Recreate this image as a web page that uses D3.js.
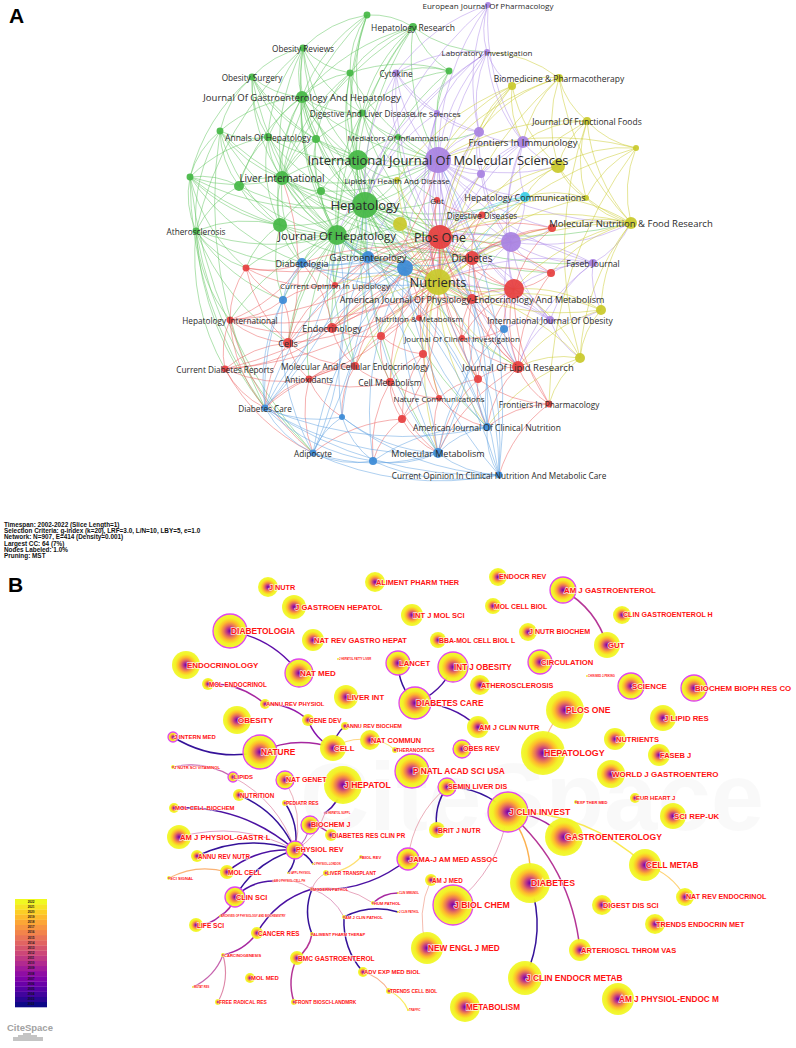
<!DOCTYPE html>
<html>
<head>
<meta charset="utf-8">
<script src="https://cdn.jsdelivr.net/npm/d3@7"></script>
<style>
  body { margin: 0; background: #fff; }
  svg { display: block; }
</style>
</head>
<body>
<div id="chart"></div>
<script>
// ---------- Panel A : journal co-citation clusters (layout units, weight = occurrences) ----------
const greenJournals = [
  ["hr", "Hepatology Research", 1.3, -21.8, 160],
  ["g1", "", -3.3, -23.0, 120],
  ["or", "Obesity Reviews", -9.7, -19.7, 120],
  ["os", "Obesity Surgery", -14.8, -16.8, 120],
  ["g2", "", -5.0, -17.2, 120],
  ["jgh", "Journal Of Gastroenterology And Hepatology", -9.8, -14.8, 360],
  ["dld", "Digestive And Liver Disease", -3.8, -13.2, 120],
  ["g3", "", -18.0, -11.4, 120],
  ["ah", "Annals Of Hepatology", -13.2, -10.8, 160],
  ["g4", "", -8.4, -10.6, 160],
  ["mi", "Mediators Of Inflammation", -0.2, -10.8, 90],
  ["g5", "", -4.2, -8.5, 1000],
  ["li", "Liver International", -11.8, -6.7, 490],
  ["g6", "", -16.1, -5.9, 250],
  ["g7", "", -21.0, -6.8, 120],
  ["g8", "", -7.9, -5.4, 160],
  ["hep", "Hepatology", -3.5, -4.0, 1690],
  ["jh", "Journal Of Hepatology", -6.3, -1.0, 1000],
  ["g9", "", -12.0, -2.0, 490],
  ["ath", "Atherosclerosis", -20.4, -1.4, 120],
  ["g10", "", 4.9, -17.4, 120]
];
const purpleJournals = [
  ["ejp", "European Journal Of Pharmacology", 8.8, -24.0, 90],
  ["lab", "Laboratory Investigation", 8.7, -19.3, 90],
  ["cyt", "Cytokine", -0.4, -17.2, 120],
  ["ls", "Life Sciences", 3.7, -13.2, 90],
  ["p1", "", 7.9, -11.3, 250],
  ["fi", "Frontiers In Immunology", 12.3, -10.3, 360],
  ["ijms", "International Journal Of Molecular Sciences", 3.8, -8.5, 1690],
  ["p2", "", 8.1, -7.1, 160],
  ["p3", "", 11.1, -0.3, 1000],
  ["fj", "Faseb Journal", 19.3, 1.8, 160],
  ["ijo", "International Journal Of Obesity", 15.0, 7.5, 160]
];
const yellowJournals = [
  ["bp", "Biomedicine & Pharmacotherapy", 15.9, -16.7, 160],
  ["y1", "", 11.2, -15.9, 160],
  ["jff", "Journal Of Functional Foods", 18.7, -12.4, 160],
  ["y2", "", 23.6, -9.7, 90],
  ["y3", "", 15.8, -7.9, 490],
  ["lhd", "Lipids In Health And Disease", -0.3, -6.5, 90],
  ["y4", "", 18.6, -4.7, 90],
  ["y5", "", 0.0, -2.1, 490],
  ["mnf", "Molecular Nutrition & Food Research", 23.1, -2.2, 360],
  ["nut", "Nutrients", 3.8, 3.7, 1690],
  ["y6", "", 20.1, 6.5, 250],
  ["y7", "", 18.0, 11.3, 250]
];
const cyanJournals = [
  ["hc", "Hepatology Communications", 12.5, -4.8, 250]
];
const redJournals = [
  ["gut", "Gut", 3.7, -4.5, 90],
  ["dd", "Digestive Diseases", 8.2, -3.0, 120],
  ["plos", "Plos One", 4.0, -0.8, 1440],
  ["r1", "", 15.2, -1.7, 160],
  ["diab", "Diabetes", 7.2, 1.3, 490],
  ["r2", "", -15.4, 2.3, 120],
  ["r3", "", 11.4, 4.4, 1000],
  ["r4", "", 15.1, 2.8, 160],
  ["col", "Current Opinion In Lipidology", -6.5, 4.0, 90],
  ["ajp", "American Journal Of Physiology-Endocrinology And Metabolism", 7.2, 5.4, 250],
  ["hi", "Hepatology International", -17.0, 7.5, 120],
  ["nm", "Nutrition & Metabolism", 1.9, 7.3, 90],
  ["endo", "Endocrinology", -6.8, 8.3, 250],
  ["cells", "Cells", -11.2, 9.8, 250],
  ["r5", "", -1.9, 9.1, 160],
  ["jci", "Journal Of Clinical Investigation", 6.2, 9.3, 90],
  ["r6", "", 2.3, 10.9, 160],
  ["cdr", "Current Diabetes Reports", -17.5, 12.4, 120],
  ["mce", "Molecular And Cellular Endocrinology", -4.5, 12.1, 160],
  ["jlr", "Journal Of Lipid Research", 11.8, 12.2, 360],
  ["anti", "Antioxidants", -9.1, 13.4, 120],
  ["cm", "Cell Metabolism", -1.0, 13.7, 160],
  ["r7", "", 7.8, 13.4, 160],
  ["nc", "Nature Communications", 3.9, 15.3, 90],
  ["fp", "Frontiers In Pharmacology", 14.9, 15.9, 120],
  ["r8", "", 0.2, 17.4, 160]
];
const blueJournals = [
  ["dia", "Diabetologia", -9.8, 1.8, 250],
  ["gastro", "Gastroenterology", -3.2, 1.2, 360],
  ["b1", "", 0.5, 2.3, 640],
  ["b2", "", -11.7, 5.5, 160],
  ["b3", "", 10.4, 8.4, 160],
  ["dc", "Diabetes Care", -13.5, 16.3, 120],
  ["b4", "", -5.8, 17.2, 90],
  ["ajcn", "American Journal Of Clinical Nutrition", 8.7, 18.2, 160],
  ["adi", "Adipocyte", -8.7, 20.8, 120],
  ["b5", "", -2.7, 21.6, 160],
  ["mm", "Molecular Metabolism", 3.8, 20.8, 250],
  ["cocn", "Current Opinion In Clinical Nutrition And Metabolic Care", 9.9, 23.0, 120]
];

// first id of every line is linked to all the ids after it
const coCitationA = [
  "hr g1 g2 g5 hep jh jgh ijms dld li g10 lab",
  "g1 or g2 hep jgh g5 li dld",
  "or os jgh g2 g5 hep jh li ah g4 dld ath",
  "os jgh ah g3 li hep jh g5 g4 g7",
  "g2 jgh hep g5 dld ijms li g4",
  "jgh ah g4 dld g5 hep jh li g6 g8 g9 ijms plos nut g3",
  "dld hep g5 jh ijms plos gut mi li",
  "g3 ah li g6 g7 jh hep g9 ath dc",
  "ah g4 li g6 g5 hep jh g9 g7",
  "g4 g5 li hep jh g8 ijms",
  "mi ijms hep plos g5 p1 nut",
  "g5 hep jh li ijms plos nut g8 lhd y5 gastro b1",
  "li hep jh g6 g8 g9 plos ijms nut g5 dia gastro diab",
  "g6 g7 hep jh g9 ath li",
  "g7 ath g9 jh hep li dia r2 adi dc",
  "g8 hep jh g9 plos ijms",
  "hep jh plos nut ijms gastro b1 diab y5 r3 p3 ajp gut dd lhd col dia endo cells hc jlr mnf r4 fj mce cm ajcn mm",
  "jh plos nut ijms gastro b1 diab dia col y5 r3 p3 endo cells r2 b2 hi ajp mce anti",
  "g9 jh hep ath dia r2 b2 gastro",
  "ath r2 hi cdr dia b2 jh cells adi dc",
  "g10 hep ijms cyt g2 dld ls",
  "ejp lab ijms hep p1 fi cyt",
  "lab cyt ijms p1 fi ls y1 hep plos jh",
  "cyt ijms ls p1 hep plos mi",
  "ls ijms p1 plos hep nut",
  "p1 ijms fi p2 plos nut p3",
  "fi ijms p2 p3 plos nut y3 hc r3",
  "ijms plos nut p3 diab y5 r3 b1 gastro hc gut lhd p2 fj ijo ajp y3 mnf jlr r1",
  "p2 plos nut p3",
  "p3 plos nut diab r3 fj ijo hc mnf r1 r4 ajp jlr",
  "fj r3 nut plos r4 mnf y6 ijo jlr",
  "ijo nut r3 y6 y7 b3 jlr ajp plos",
  "bp y1 jff y3 ijms nut p1 fi lab mnf",
  "y1 ijms nut y3 fi p1 plos lhd",
  "jff y3 y2 mnf nut ijms y4 fi y7",
  "y2 y3 mnf y4 nut ijms fp",
  "y3 nut ijms mnf plos y4 hc",
  "lhd ijms nut plos hep",
  "y4 mnf nut hc plos",
  "y5 nut plos ijms hep jh",
  "mnf nut plos r1 r4 y6 y7 r3 fj ijms hc diab",
  "nut plos diab r3 b1 gastro ajp jlr r7 ijo mm ajcn col endo mce cm r5 r6 nc hc y6 g5 li",
  "y6 nut r3 jlr ijo ajp y7",
  "y7 nut jlr fp r3 ajcn ijo",
  "hc plos nut diab hep ijms dd",
  "gut plos hep ijms nut dd",
  "dd plos diab nut",
  "plos diab r3 b1 gastro ajp jlr r7 nc cm endo mce cells col jci r6 g5 li",
  "r1 r3 plos nut diab",
  "diab r3 b1 ajp jlr nut plos dia endo b3",
  "r2 dia hi cells b2 col plos",
  "r3 ajp jlr r7 jci b3 ijo fp r4 hep jh",
  "r4 r3 nut plos jlr",
  "col dia plos nut gastro b2 cells",
  "ajp jlr jci r7 b1 nut endo nm",
  "hi cells cdr r2 dia b2 dc endo plos nut jh adi",
  "nm nut plos b1 r5 ajp",
  "endo cells mce r5 b1 plos nut dia ijms",
  "cells mce anti endo dc cdr nut plos b2 li",
  "r5 mce cm r6 nut plos",
  "jci jlr r7 nut plos b3",
  "r6 cm nc r8 nut plos",
  "cdr cells anti dc hi endo nut plos adi",
  "mce anti cm nut plos b4 dc",
  "jlr r7 fp ajcn nut plos r3 mm diab",
  "anti dc cm b4 adi plos nut",
  "cm nc r8 b5 mm nut plos",
  "r7 nc ajcn fp mm plos nut",
  "nc r8 mm ajcn plos",
  "fp ajcn jlr r3 nut cocn r7",
  "r8 b5 mm adi nut",
  "dia gastro b2 b1 dc plos nut hi li",
  "gastro b1 plos nut diab dc b4 mm g9",
  "b1 nut plos ajcn mm dc b4 b5 adi cocn",
  "b2 dc cells adi dia",
  "b3 ajcn mm nut jlr",
  "dc adi b4 b5 mm ajcn cells anti cocn jh hep gastro",
  "b4 adi b5 mm cocn",
  "ajcn mm cocn b5 nut plos hep jh gastro",
  "adi b5 mm cocn b4 jh hep",
  "b5 mm cocn ajcn",
  "mm cocn hep jh diab gastro",
  "cocn nut plos b1 hep jh ijms"
];

// ---------- Panel B : cited-journal network (layout units, citations, centrality) ----------
const citedJournals = [
  ["jnutr", "J NUTR", -13.2, -21.3, 1000, 0.02],
  ["apther", "ALIMENT PHARM THER", -2.5, -21.8, 1000, 0.01],
  ["jgh", "J GASTROEN HEPATOL", -10.6, -19.3, 1440, 0.03],
  ["ijms", "INT J MOL SCI", 1.2, -18.5, 1210, 0.01],
  ["diabetologia", "DIABETOLOGIA", -17.0, -16.9, 2890, 0.15],
  ["nrgh", "NAT REV GASTRO HEPAT", -8.7, -16.0, 1210, 0.01],
  ["bba", "BBA-MOL CELL BIOL L", 3.8, -16.0, 640, 0.02],
  ["endocrinology", "ENDOCRINOLOGY", -21.4, -13.5, 1960, 0.05],
  ["natmed", "NAT MED", -10.1, -12.7, 1960, 0.18],
  ["fld", "J HEPATOL FATTY LIVER", -6.2, -14.1, 10, 0.0],
  ["lancet", "LANCET", -0.2, -13.7, 1440, 0.12],
  ["ijo", "INT J OBESITY", 5.3, -13.3, 2250, 0.14],
  ["molendo", "MOL ENDOCRINOL", -19.2, -11.6, 360, 0.04],
  ["arphys", "ANNU REV PHYSIOL", -13.5, -9.6, 250, 0.06],
  ["liverint", "LIVER INT", -5.4, -10.3, 1440, 0.02],
  ["dcare", "DIABETES CARE", 1.5, -9.7, 2560, 0.21],
  ["athero", "ATHEROSCLEROSIS", 8.0, -11.5, 1000, 0.04],
  ["circ", "CIRCULATION", 14.0, -13.8, 1440, 0.11],
  ["jnb", "J NUTR BIOCHEM", 12.8, -16.8, 810, 0.02],
  ["mcb", "MOL CELL BIOL", 9.3, -19.4, 640, 0.05],
  ["endorev", "ENDOCR REV", 9.8, -22.3, 810, 0.07],
  ["ajg", "AM J GASTROENTEROL", 16.3, -21.0, 1690, 0.13],
  ["cgh", "CLIN GASTROENTEROL H", 22.2, -18.5, 810, 0.02],
  ["gut", "GUT", 20.7, -15.5, 1690, 0.08],
  ["cmj", "CHIN MED J-PEKING", 18.7, -12.4, 10, 0.0],
  ["science", "SCIENCE", 23.1, -11.4, 1690, 0.16],
  ["bbrc", "BIOCHEM BIOPH RES CO", 29.4, -11.2, 1690, 0.12],
  ["plos", "PLOS ONE", 16.5, -9.0, 3610, 0.04],
  ["jlr", "J LIPID RES", 26.3, -8.2, 1690, 0.06],
  ["ajcn", "AM J CLIN NUTR", 7.8, -7.3, 1210, 0.08],
  ["nutrients", "NUTRIENTS", 21.5, -6.1, 1210, 0.01],
  ["hepatology", "HEPATOLOGY", 14.3, -4.7, 4840, 0.09],
  ["faseb", "FASEB J", 25.9, -4.5, 1210, 0.05],
  ["obesrev", "OBES REV", 6.2, -5.1, 810, 0.11],
  ["wjg", "WORLD J GASTROENTERO", 21.1, -2.6, 1960, 0.02],
  ["obesity", "OBESITY", -16.3, -8.0, 1960, 0.03],
  ["genedev", "GENE DEV", -9.2, -8.0, 360, 0.05],
  ["arbio", "ANNU REV BIOCHEM", -5.5, -7.4, 160, 0.04],
  ["jim", "J INTERN MED", -22.7, -6.3, 250, 0.10],
  ["natcom", "NAT COMMUN", -3.0, -6.0, 1000, 0.03],
  ["thera", "THERANOSTICS", -0.5, -5.0, 90, 0.0],
  ["cell", "CELL", -6.7, -5.2, 1690, 0.09],
  ["nature", "NATURE", -14.0, -4.8, 2890, 0.17],
  ["pnas", "P NATL ACAD SCI USA", 1.2, -2.9, 2890, 0.15],
  ["jnsv", "J NUTR SCI VITAMINOL", -22.7, -3.3, 40, 0.0],
  ["lipids", "LIPIDS", -16.7, -2.3, 250, 0.10],
  ["natgen", "NAT GENET", -11.5, -2.0, 810, 0.12],
  ["jhep", "J HEPATOL", -5.7, -1.5, 3610, 0.07],
  ["semin", "SEMIN LIVER DIS", 4.7, -1.3, 810, 0.13],
  ["nutrition", "NUTRITION", -16.1, -0.5, 360, 0.03],
  ["pedres", "PEDIATR RES", -11.5, 0.3, 90, 0.02],
  ["mcbiochem", "MOL CELL BIOCHEM", -22.6, 0.8, 250, 0.03],
  ["jhsup", "J HEPATOL SUPPL", -7.5, 1.3, 10, 0.10],
  ["biochemj", "BIOCHEM J", -9.0, 2.5, 810, 0.14],
  ["drcp", "DIABETES RES CLIN PR", -6.9, 3.5, 360, 0.02],
  ["ajpgl", "AM J PHYSIOL-GASTR L", -22.1, 3.7, 1440, 0.05],
  ["bjn", "BRIT J NUTR", 3.7, 3.0, 640, 0.04],
  ["jci", "J CLIN INVEST", 10.8, 1.2, 4000, 0.25],
  ["expther", "EXP THER MED", 17.6, 0.2, 40, 0.0],
  ["eurheart", "EUR HEART J", 23.5, -0.2, 250, 0.02],
  ["scirep", "SCI REP-UK", 27.3, 1.6, 1690, 0.01],
  ["gastro", "GASTROENTEROLOGY", 16.4, 3.7, 3610, 0.08],
  ["arnutr", "ANNU REV NUTR", -20.3, 5.6, 360, 0.03],
  ["physrev", "PHYSIOL REV", -10.5, 5.0, 810, 0.31],
  ["jama", "JAMA-J AM MED ASSOC", 0.8, 5.9, 1210, 0.16],
  ["cellmetab", "CELL METAB", 24.5, 6.5, 2560, 0.04],
  ["molcell", "MOL CELL", -17.3, 7.2, 490, 0.06],
  ["scisig", "SCI SIGNAL", -23.1, 7.8, 40, 0.0],
  ["biolrev", "BIOL REV", -3.9, 5.7, 40, 0.0],
  ["livtx", "LIVER TRANSPLANT", -7.4, 7.3, 90, 0.03],
  ["modpath", "MODERN PATHOL", -8.8, 8.9, 40, 0.22],
  ["ajmed", "AM J MED", 3.1, 8.0, 360, 0.05],
  ["diabetes", "DIABETES", 13.0, 8.3, 4000, 0.07],
  ["nre", "NAT REV ENDOCRINOL", 28.5, 9.7, 810, 0.02],
  ["clinsci", "CLIN SCI", -16.5, 9.7, 1000, 0.14],
  ["jbc", "J BIOL CHEM", 5.3, 10.5, 4000, 0.18],
  ["humpath", "HUM PATHOL", -2.7, 10.3, 40, 0.04],
  ["dds", "DIGEST DIS SCI", 20.2, 10.5, 1000, 0.02],
  ["ajcp", "AM J CLIN PATHOL", -5.6, 11.7, 40, 0.05],
  ["tem", "TRENDS ENDOCRIN MET", 25.5, 12.4, 1000, 0.03],
  ["lifesci", "LIFE SCI", -20.4, 12.5, 490, 0.04],
  ["cancer", "CANCER RES", -14.3, 13.3, 360, 0.06],
  ["apther2", "ALIMENT PHARM THERAP", -8.8, 13.4, 40, 0.03],
  ["atv", "ARTERIOSCL THROM VAS", 18.0, 15.0, 1210, 0.05],
  ["nejm", "NEW ENGL J MED", 2.7, 14.8, 2560, 0.06],
  ["carcino", "CARCINOGENESIS", -17.7, 15.5, 40, 0.03],
  ["bmcg", "BMC GASTROENTEROL", -10.3, 15.8, 490, 0.03],
  ["jcem", "J CLIN ENDOCR METAB", 12.5, 17.8, 2890, 0.06],
  ["aemb", "ADV EXP MED BIOL", -3.7, 17.2, 250, 0.04],
  ["molmed", "MOL MED", -15.0, 17.8, 250, 0.02],
  ["tcb", "TRENDS CELL BIOL", -1.1, 19.1, 90, 0.02],
  ["ajpem", "AM J PHYSIOL-ENDOC M", 21.8, 19.9, 2560, 0.05],
  ["metab", "METABOLISM", 6.5, 20.7, 2250, 0.04],
  ["frr", "FREE RADICAL RES", -18.2, 20.2, 90, 0.01],
  ["fbl", "FRONT BIOSCI-LANDMRK", -10.6, 20.2, 90, 0.02],
  ["ajpcell", "AM J PHYSIOL-CELL PH", -12.7, 8.1, 10, 0.10],
  ["clinimm", "CLIN IMMUNOL", -0.2, 9.3, 10, 0.0],
  ["jclinpath", "J CLIN PATHOL", -0.2, 11.2, 10, 0.0],
  ["mutres", "MUTAT RES", -20.7, 18.7, 10, 0.0],
  ["traffic", "TRAFFIC", 0.8, 21.0, 10, 0.0],
  ["jphys", "J PHYSIOL-LONDON", -8.7, 6.4, 10, 0.0],
  ["japp", "J APPL PHYSIOL", -11.2, 7.3, 10, 0.0],
  ["apb", "ARCHIVES OF PHYSIOLOGY AND BIOCHEMISTRY", -18.0, 11.6, 10, 0.0]
];

// [source, target, year of first co-citation, strength]
const citedLinks = [
  ["diabetologia", "natmed", 2005, 1],
  ["molendo", "arphys", 2009, 1],
  ["arphys", "genedev", 2008, 1],
  ["cell", "genedev", 2007, 1],
  ["cell", "arbio", 2004, 1],
  ["cell", "natcom", 2019, 0.5],
  ["natcom", "thera", 2021, 0.5],
  ["nature", "cell", 2009, 1],
  ["nature", "jim", 2003, 1],
  ["dcare", "lancet", 2003, 1],
  ["ijo", "dcare", 2004, 1],
  ["dcare", "ajcn", 2004, 1],
  ["ajg", "gut", 2010, 1],
  ["hepatology", "plos", 2016, 0.5],
  ["jnsv", "lipids", 2010, 0.7],
  ["lipids", "physrev", 2012, 0.4],
  ["nutrition", "physrev", 2003, 1],
  ["mcbiochem", "physrev", 2004, 1],
  ["ajpgl", "physrev", 2011, 0.4],
  ["pedres", "physrev", 2003, 1],
  ["natgen", "physrev", 2013, 0.4],
  ["biochemj", "drcp", 2010, 1],
  ["biochemj", "physrev", 2008, 0.6],
  ["jhep", "jhsup", 2004, 1],
  ["jhsup", "physrev", 2012, 0.4],
  ["arnutr", "physrev", 2003, 1],
  ["molcell", "physrev", 2004, 1],
  ["scisig", "molcell", 2017, 0.7],
  ["clinsci", "physrev", 2003, 1],
  ["clinsci", "ajpcell", 2004, 1],
  ["ajpcell", "modpath", 2012, 0.4],
  ["clinsci", "apb", 2009, 1],
  ["apb", "lifesci", 2009, 1],
  ["jama", "modpath", 2004, 1],
  ["cancer", "modpath", 2004, 1],
  ["apther2", "modpath", 2003, 1],
  ["modpath", "livtx", 2012, 0.4],
  ["modpath", "humpath", 2012, 0.4],
  ["modpath", "ajcp", 2011, 0.4],
  ["cancer", "carcino", 2009, 1],
  ["carcino", "frr", 2012, 0.6],
  ["carcino", "mutres", 2010, 0.7],
  ["apther2", "bmcg", 2010, 1],
  ["fbl", "bmcg", 2010, 1],
  ["aemb", "ajcp", 2003, 1],
  ["aemb", "tcb", 2016, 0.6],
  ["tcb", "traffic", 2021, 0.7],
  ["ajcp", "jclinpath", 2003, 1],
  ["humpath", "clinimm", 2009, 1],
  ["jama", "semin", 2013, 0.4],
  ["bjn", "semin", 2003, 1],
  ["semin", "jci", 2003, 1],
  ["jci", "gastro", 2009, 1],
  ["jci", "cellmetab", 2021, 0.8],
  ["cellmetab", "nre", 2019, 0.6],
  ["jci", "diabetes", 2018, 0.9],
  ["jci", "atv", 2010, 1],
  ["jci", "jbc", 2012, 0.4],
  ["diabetes", "jcem", 2003, 1],
  ["nejm", "ajmed", 2015, 0.4],
  ["biolrev", "livtx", 2020, 0.6],
  ["physrev", "jphys", 2003, 1],
  ["physrev", "japp", 2003, 1]
];

const legendYears = d3.range(2002, 2023);

const networkInfo = [
  "Timespan: 2002-2022 (Slice Length=1)",
  "Selection Criteria: g-index (k=20), LRF=3.0, L/N=10, LBY=5, e=1.0",
  "Network: N=907, E=414 (Density=0.001)",
  "Largest CC: 64 (7%)",
  "Nodes Labeled: 1.0%",
  "Pruning: MST"
];

// ---------- drawing ----------
const W = 796, H = 1048;
const svg = d3.select("#chart").append("svg")
  .attr("width", W).attr("height", H)
  .attr("viewBox", `0 0 ${W} ${H}`);

function curved(s, t, bend) {
  const p = d3.path();
  const mx = (s.x + t.x) / 2, my = (s.y + t.y) / 2;
  const dx = t.x - s.x, dy = t.y - s.y;
  p.moveTo(s.x, s.y);
  p.quadraticCurveTo(mx - dy * bend, my + dx * bend, t.x, t.y);
  return p.toString();
}

// ----- Panel A -----
const clusterStyle = {
  green:  { fill: "#46b846", edge: "#62c65f" },
  purple: { fill: "#a982e2", edge: "#b08ee9" },
  yellow: { fill: "#c9c92c", edge: "#cccc30" },
  cyan:   { fill: "#3ccfe6", edge: "#55d3ea" },
  red:    { fill: "#e63f3f", edge: "#ec5f5f" },
  blue:   { fill: "#3b8bd6", edge: "#5fa2e2" }
};
const groupsA = [
  ["green", greenJournals], ["purple", purpleJournals], ["yellow", yellowJournals],
  ["cyan", cyanJournals], ["red", redJournals], ["blue", blueJournals]
];

const xA = d3.scaleLinear().domain([-40, 40]).range([0, 800]);
const yA = d3.scaleLinear().domain([-24.5, 24.5]).range([0, 490]);
const rA = d3.scaleSqrt().domain([0, 1690]).range([0, 13]);
const fontA = d3.scaleLinear().domain([0, 13]).range([6.5, 13]);

const nodesA = [];
groupsA.forEach(([cluster, list]) => {
  list.forEach(([id, label, lx, ly, w]) => {
    nodesA.push({ id, label, cluster, x: xA(lx), y: yA(ly), r: rA(w) });
  });
});
const byIdA = new Map(nodesA.map(d => [d.id, d]));

const linksA = [];
const seen = new Set();
coCitationA.forEach(line => {
  const [src, ...targets] = line.split(" ");
  targets.forEach(tg => {
    const key = [src, tg].sort().join("|");
    if (seen.has(key)) return;
    const s = byIdA.get(src), t = byIdA.get(tg);
    if (!s || !t) { console.warn("missing node", src, tg); return; }
    seen.add(key);
    linksA.push({ source: s, target: t });
  });
});

const gA = svg.append("g").attr("class", "panel-a");

gA.append("g")
  .selectAll("path")
  .data(linksA)
  .join("path")
  .attr("d", d => curved(d.source, d.target, 0.16))
  .attr("fill", "none")
  .attr("stroke", d => clusterStyle[d.source.cluster].edge)
  .attr("stroke-opacity", 0.5)
  .attr("stroke-width", 1);

gA.append("g")
  .selectAll("circle")
  .data(nodesA)
  .join("circle")
  .attr("cx", d => d.x)
  .attr("cy", d => d.y)
  .attr("r", d => d.r)
  .attr("fill", d => clusterStyle[d.cluster].fill)
  .attr("fill-opacity", 0.93);

gA.append("g")
  .selectAll("text")
  .data(nodesA.filter(d => d.label))
  .join("text")
  .attr("x", d => d.x)
  .attr("y", d => d.y)
  .attr("text-anchor", "middle")
  .attr("dominant-baseline", "central")
  .attr("font-family", "'Open Sans', 'Noto Sans', sans-serif")
  .attr("font-size", d => fontA(d.r))
  .attr("fill", "#2b2b2b")
  .text(d => d.label);

svg.append("text")
  .attr("x", 9).attr("y", 23)
  .attr("font-family", "'Liberation Sans', Arial, sans-serif")
  .attr("font-weight", "bold")
  .attr("font-size", 21)
  .text("A");

svg.append("g")
  .selectAll("text")
  .data(networkInfo)
  .join("text")
  .attr("x", 4)
  .attr("y", (d, i) => 527 + i * 6.2)
  .attr("font-family", "'Liberation Sans', Arial, sans-serif")
  .attr("font-weight", "bold")
  .attr("font-size", 6.4)
  .attr("fill", "#111")
  .text(d => d);

// ----- Panel B -----
const xB = d3.scaleLinear().domain([-40, 40]).range([0, 800]);
const yB = d3.scaleLinear().domain([-24, 24]).range([560, 1040]);
const rB = d3.scaleSqrt().domain([0, 4840]).range([0, 22]);
const fontB = d3.scaleLog().domain([1, 22]).range([2.7, 8.9]).clamp(true);
const yearColor = d3.scaleSequential(d3.interpolatePlasma).domain([2002, 2022]);

const defs = svg.append("defs");
const ring = defs.append("radialGradient").attr("id", "tree-ring");
[[0, 2006, 1], [0.16, 2010, 1], [0.36, 2015, 1], [0.55, 2019, 1], [0.75, 2021.6, 1], [1, 2022, 0.9]]
  .forEach(([off, yr, op]) => {
    ring.append("stop")
      .attr("offset", off)
      .attr("stop-color", yearColor(yr))
      .attr("stop-opacity", op);
  });

const gB = svg.append("g").attr("class", "panel-b");

// faint watermark
gB.append("text")
  .attr("x", 300).attr("y", 830)
  .attr("font-family", "'Liberation Sans', Arial, sans-serif")
  .attr("font-weight", "bold")
  .attr("font-size", 96)
  .attr("fill", "#000")
  .attr("fill-opacity", 0.025)
  .text("CiteSpace");

const nodesB = citedJournals.map(([id, label, lx, ly, cites, centrality]) => ({
  id, label, x: xB(lx), y: yB(ly), r: rB(cites), centrality
}));
const byIdB = new Map(nodesB.map(d => [d.id, d]));
const linksB = citedLinks.map(([s, t, year, strength]) => ({
  source: byIdB.get(s), target: byIdB.get(t), year, strength
})).filter(d => d.source && d.target);

gB.append("g")
  .selectAll("path")
  .data(linksB)
  .join("path")
  .attr("d", d => curved(d.source, d.target, -0.2))
  .attr("fill", "none")
  .attr("stroke", d => yearColor(d.year))
  .attr("stroke-opacity", d => 0.2 + 0.75 * d.strength)
  .attr("stroke-width", d => 0.6 + 0.9 * d.strength);

gB.append("g")
  .selectAll("circle")
  .data(nodesB)
  .join("circle")
  .attr("cx", d => d.x)
  .attr("cy", d => d.y)
  .attr("r", d => Math.max(1, d.r))
  .attr("fill", "url(#tree-ring)")
  .attr("stroke", d => d.centrality >= 0.1 ? "#e046ee" : "none")
  .attr("stroke-width", d => d.r > 4 ? 1.3 : 0.6);

gB.append("g")
  .selectAll("text")
  .data(nodesB)
  .join("text")
  .attr("x", d => d.x + 1)
  .attr("y", d => d.y)
  .attr("dominant-baseline", "central")
  .attr("font-family", "'Liberation Sans', Arial, sans-serif")
  .attr("font-weight", "bold")
  .attr("font-size", d => fontB(Math.max(1, d.r)))
  .attr("fill", "#ff1212")
  .attr("stroke", "#fff")
  .attr("stroke-opacity", 0.75)
  .attr("stroke-width", d => fontB(Math.max(1, d.r)) * 0.2)
  .attr("paint-order", "stroke")
  .text(d => d.label);

svg.append("text")
  .attr("x", 8).attr("y", 592)
  .attr("font-family", "'Liberation Sans', Arial, sans-serif")
  .attr("font-weight", "bold")
  .attr("font-size", 21)
  .text("B");

// year legend
const legendY = d3.scaleBand().domain(legendYears.slice().reverse()).range([899, 1007]);
const legend = svg.append("g").attr("class", "legend");
legend.selectAll("rect")
  .data(legendYears)
  .join("rect")
  .attr("x", 15)
  .attr("y", d => legendY(d))
  .attr("width", 32)
  .attr("height", legendY.bandwidth() + 0.3)
  .attr("fill", d => yearColor(d));
legend.selectAll("text")
  .data(legendYears)
  .join("text")
  .attr("x", 31)
  .attr("y", d => legendY(d) + legendY.bandwidth() / 2)
  .attr("text-anchor", "middle")
  .attr("dominant-baseline", "central")
  .attr("font-family", "'Liberation Sans', Arial, sans-serif")
  .attr("font-weight", "bold")
  .attr("font-size", 3)
  .attr("fill", "#111")
  .text(d => d);

// CiteSpace logo
const logo = svg.append("g").attr("class", "logo");
logo.append("text")
  .attr("x", 7).attr("y", 1031)
  .attr("font-family", "'Liberation Sans', Arial, sans-serif")
  .attr("font-weight", "bold")
  .attr("font-size", 9.5)
  .attr("fill", "#a2a2a2")
  .text("CiteSpace");
logo.append("path")
  .attr("d", "M13,1041V1037H18V1035H23V1033H31V1035H37V1037H43V1041Z")
  .attr("fill", "#c4c4c4");
</script>
</body>
</html>
